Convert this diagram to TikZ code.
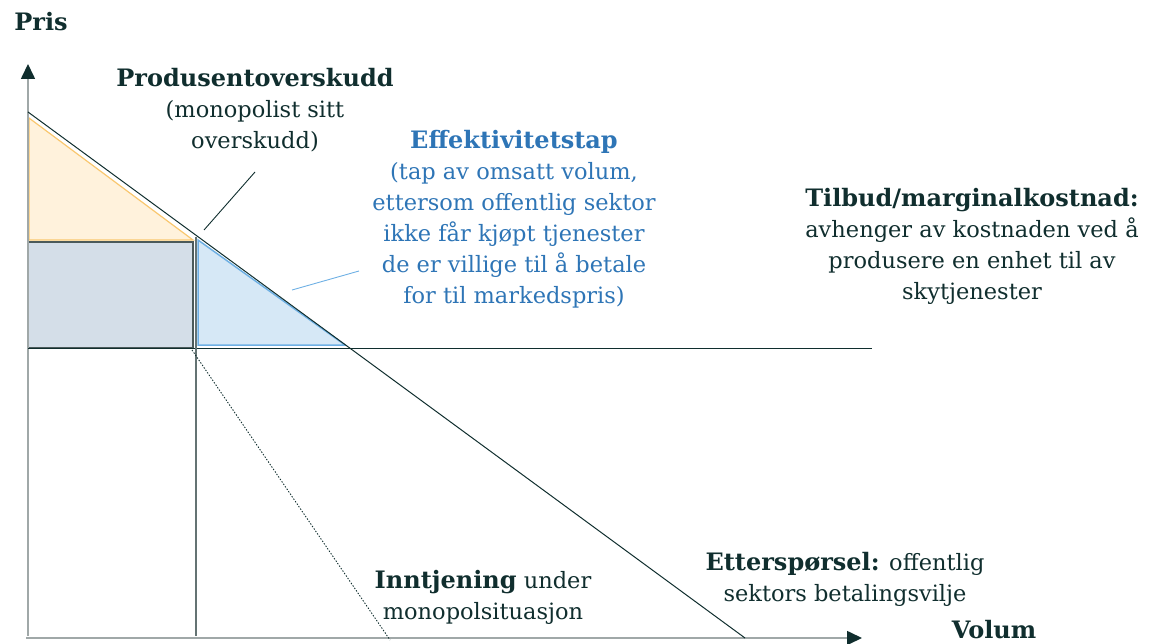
\documentclass[tikz,border=0pt]{standalone}
\usepackage{fontspec}
\setmainfont{DejaVu Serif}
\usetikzlibrary{arrows.meta,positioning}

\definecolor{inkdark}{RGB}{16,46,46}
\definecolor{inkblue}{RGB}{46,117,182}
\definecolor{axisgray}{RGB}{160,168,168}
\definecolor{gridgray}{RGB}{100,115,115}
\definecolor{surplusfill}{RGB}{255,242,220}
\definecolor{surplusline}{RGB}{249,199,110}
\definecolor{lossfill}{RGB}{214,232,246}
\definecolor{lossline}{RGB}{110,176,228}
\definecolor{revfill}{RGB}{212,222,232}
\definecolor{revline}{RGB}{75,90,90}

\newcommand{\boldlbl}[1]{{\fontsize{24}{31}\selectfont\bfseries #1}}

\begin{document}
\begin{tikzpicture}[
    x=1pt, y=-1pt,
    font=\fontsize{22.5}{31}\selectfont,
    axis/.style={draw=axisgray, line width=1.6pt, -{Triangle[length=15pt,width=14pt,color=inkdark]}},
    curve/.style={draw=inkdark, line width=1pt},
    pointer/.style={draw=inkdark, line width=0.9pt},
    lbl/.style={align=center, inner sep=0pt, text=inkdark}
  ]
    \useasboundingbox (0,0) rectangle (1150,644);

    % key points
    \coordinate (O) at (28,638);
    \coordinate (ytop) at (28,64);
    \coordinate (xend) at (862,638);
    \coordinate (dtop) at (28,112);
    \coordinate (dend) at (745,638);
    \coordinate (mcleft) at (28,348);
    \coordinate (mcright) at (872,348);
    \coordinate (qm) at (196,237);
    \coordinate (qmbase) at (196,636);

    % areas
    \filldraw[fill=surplusfill, draw=surplusline, line width=1.2pt]
      (29,118) -- (193,240) -- (29,240) -- cycle;
    \filldraw[fill=lossfill, draw=lossline, line width=1.5pt]
      (198,240) -- (345,345) -- (198,345) -- cycle;
    \filldraw[fill=revfill, draw=revline, line width=1.2pt]
      (28,242) rectangle (193,348);

    % axes
    \draw[axis] (28,636) -- (ytop);
    \draw[axis] (26,638) -- (xend);

    % curves
    \draw[curve] (mcleft) -- (mcright);
    \draw[curve] (dtop) -- (dend);
    \draw[draw=gridgray, line width=1.2pt] (qm) -- (qmbase);
    \draw[inkdark, line width=0.9pt, dash pattern=on 1.4pt off 1.6pt] (192,350) -- (390,640);

    % labels
    \node[lbl] (pris) at (41,22) {\boldlbl{Pris}};
    \node[lbl] (volum) at (994,630) {\boldlbl{Volum}};
    \node[lbl] (prod) at (255,110)
      {\boldlbl{Produsentoverskudd}\\(monopolist sitt\\overskudd)};
    \node[lbl, text=inkblue] (loss) at (514,219)
      {\boldlbl{Effektivitetstap}\\(tap av omsatt volum,\\ettersom offentlig sektor\\ikke får kjøpt tjenester\\de er villige til å betale\\for til markedspris)};
    \node[lbl] (supply) at (972,246)
      {\boldlbl{Tilbud/marginalkostnad:}\\avhenger av kostnaden ved å\\produsere en enhet til av\\skytjenester};
    \node[lbl] (demand) at (845,579)
      {\boldlbl{Etterspørsel:} offentlig\\sektors betalingsvilje};
    \node[lbl] (revenue) at (483,597)
      {\boldlbl{Inntjening} under\\monopolsituasjon};

    % pointers
    \coordinate (prodtip) at (204,230);
    \coordinate (prodtail) at (255,172);
    \coordinate (losstip) at (292,290);
    \coordinate (losstail) at (359,271);
    \draw[pointer] (prodtail) -- (prodtip);
    \draw[pointer, draw=lossline] (losstail) -- (losstip);
  \end{tikzpicture}
\end{document}
